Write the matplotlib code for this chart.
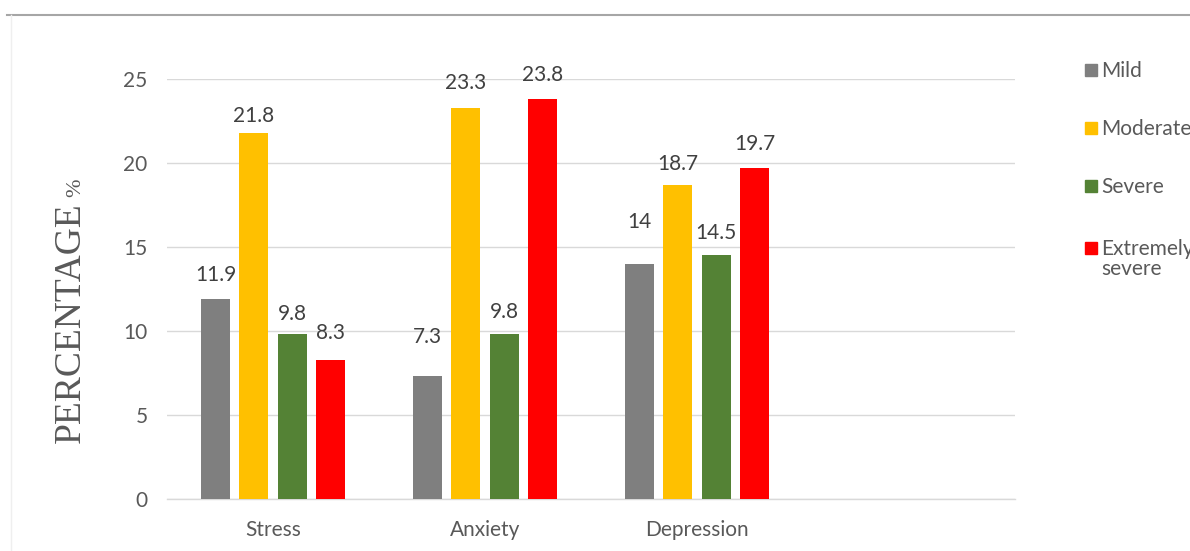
import matplotlib
matplotlib.use("Agg")
import matplotlib.pyplot as plt
from matplotlib.lines import Line2D
from matplotlib.patches import Rectangle
import numpy as np

# ---- data ----
categories = ["Stress", "Anxiety", "Depression", ""]
series_names = ["Mild", "Moderate", "Severe", "Extremely\nsevere"]
mild = [11.9, 7.3, 14.0]
moderate = [21.8, 23.3, 18.7]
severe = [9.8, 9.8, 14.5]
extremely_severe = [8.3, 23.8, 19.7]
yticks = [0, 5, 10, 15, 20, 25]

# ---- styling ----
colors = ["#7f7f7f", "#ffc000", "#548235", "#ff0000"]
label_offsets_px = [[24, 39, 42], [17, 25, 21], [20, 22, 22], [27, 24, 24]]
legend_y_px = [70, 128, 186, 248]

W, H = 1190, 551
SANS = ["Lato", "DejaVu Sans"]
TXT = "#595959"

fig = plt.figure(figsize=(W / 100, H / 100), dpi=100)
fig.patch.set_facecolor("white")
ax = fig.add_axes([167 / W, 1 - 499 / H, 848 / W, 420 / H])

series = [mild, moderate, severe, extremely_severe]
x = np.arange(len(categories))
bar_w = 29 / 212
step = 38.3 / 212
for i, (vals, col) in enumerate(zip(series, colors)):
    xs = x[:len(vals)] + (i - 1.5) * step
    ax.bar(xs, vals, width=bar_w, color=col, zorder=3)
    for xi, v, off in zip(xs, vals, label_offsets_px[i]):
        ax.annotate(f"{v:g}", (xi, v), xytext=(0, off * 0.72), textcoords="offset points",
                    ha="center", va="center", fontsize=15, color="#404040", family=SANS)

ax.set_xlim(-0.5, len(categories) - 0.5)
ax.set_ylim(0, 25)
ax.set_yticks(yticks)
ax.set_xticks(x)
ax.set_xticklabels(categories)
ax.grid(axis="y", color="#d9d9d9", lw=1, zorder=0)
ax.set_axisbelow(True)
for s in ["top", "right", "left"]:
    ax.spines[s].set_visible(False)
ax.spines["bottom"].set_color("#d9d9d9")
ax.spines["bottom"].set_linewidth(1)
ax.tick_params(axis="both", length=0, labelcolor=TXT, labelsize=15)
ax.tick_params(axis="y", pad=14)
ax.tick_params(axis="x", pad=15)
for lab in ax.get_xticklabels() + ax.get_yticklabels():
    lab.set_family(SANS)

# y-axis title
fig.text(80 / W, 1 - 443 / H, "PERCENTAGE", rotation=90, rotation_mode="anchor",
         ha="left", va="baseline", fontsize=27, color=TXT, family="Liberation Serif")
fig.text(80 / W, 1 - 197 / H, "%", rotation=90, rotation_mode="anchor",
         ha="left", va="baseline", fontsize=16, color=TXT, family="Liberation Serif")

# legend (manual)
for name, col, yp in zip(series_names, colors, legend_y_px):
    fig.add_artist(Rectangle((1085 / W, 1 - (yp + 6) / H), 12 / W, 12 / H,
                             transform=fig.transFigure, color=col))
    fig.text(1101 / W, 1 - (yp - 9) / H, name, ha="left", va="top", fontsize=15,
             color=TXT, family=SANS, linespacing=1.0)

# page decoration line at top
fig.add_artist(Line2D([7 / W, 1], [1 - 15 / H, 1 - 15 / H], transform=fig.transFigure,
                      color="#a6a6a6", lw=1.5))
fig.add_artist(Line2D([11 / W, 11 / W], [0, 1 - 15 / H], transform=fig.transFigure,
                      color="#efefef", lw=1))

fig.savefig("out.png", dpi=100, facecolor="white")
